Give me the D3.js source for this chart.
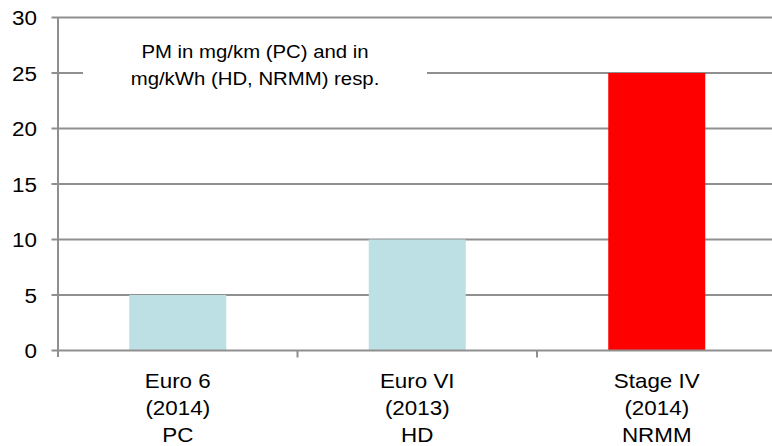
<!DOCTYPE html>
<html><head><meta charset="utf-8">
<script src="https://cdn.jsdelivr.net/npm/d3@7"></script>
<style>
body{margin:0;background:#fff}
svg{display:block}
text{font-family:"Liberation Sans",Arial,Helvetica,sans-serif;fill:#000}
</style>
</head><body>
<svg id="c" width="772" height="446"></svg>
<script>
// ---- data ----
const categories = ["Euro 6", "Euro VI", "Stage IV"];
const years = ["(2014)", "(2013)", "(2014)"];
const sectors = ["PC", "HD", "NRMM"];
const values = [5, 10, 25];
const barColors = ["#bce0e3", "#bce0e3", "#ff0000"];
const yTicks = [0, 5, 10, 15, 20, 25, 30];
const noteLines = ["PM in mg/km (PC) and in", "mg/kWh (HD, NRMM) resp."];

// ---- layout ----
(function () {
const W = 772, H = 446;
const svg = d3.select("#c");
const pLeft = 58, pRight = 776.5, pTop = 17.5, pBottom = 350.5;
const gridColor = "#8f8f8f";
const sx = 1.1;

const y = d3.scaleLinear().domain([0, 30]).range([pBottom, pTop]);
const x = d3.scaleBand().domain(categories).range([pLeft, pRight])
  .paddingInner(0.595).paddingOuter(0.2975);

// gridlines
svg.append("g").selectAll("line").data(yTicks.filter(d => d > 0)).join("line")
  .attr("x1", pLeft).attr("x2", W)
  .attr("y1", d => y(d)).attr("y2", d => y(d))
  .attr("stroke", gridColor).attr("stroke-width", 2);

// note box (white background covering gridline)
svg.append("rect").attr("x", 83).attr("y", 30).attr("width", 344).attr("height", 80).attr("fill", "#fff");
const noteX = 255;
noteLines.forEach((t, i) => {
  svg.append("text")
    .attr("transform", `translate(${noteX},${58.3 + i * 27}) scale(${sx},1)`)
    .attr("text-anchor", "middle").attr("font-size", 18.5).text(t);
});

// bars
svg.append("g").selectAll("rect").data(values).join("rect")
  .attr("x", (d, i) => x(categories[i]))
  .attr("width", x.bandwidth())
  .attr("y", d => y(d))
  .attr("height", d => y(0) - y(d))
  .attr("fill", (d, i) => barColors[i]);

// y axis line
svg.append("line").attr("x1", pLeft).attr("x2", pLeft).attr("y1", pTop).attr("y2", pBottom + 6.5)
  .attr("stroke", gridColor).attr("stroke-width", 2);
// y ticks
svg.append("g").selectAll("line").data(yTicks).join("line")
  .attr("x1", pLeft - 6.5).attr("x2", pLeft)
  .attr("y1", d => y(d)).attr("y2", d => y(d))
  .attr("stroke", gridColor).attr("stroke-width", 2);
// x axis line
svg.append("line").attr("x1", pLeft).attr("x2", W).attr("y1", pBottom).attr("y2", pBottom)
  .attr("stroke", gridColor).attr("stroke-width", 2);
// x ticks at band boundaries
const bounds = categories.map(c => x(c) - x.step() * x.paddingInner() / 2).slice(1);
svg.append("g").selectAll("line").data(bounds).join("line")
  .attr("x1", d => d).attr("x2", d => d)
  .attr("y1", pBottom).attr("y2", pBottom + 7)
  .attr("stroke", gridColor).attr("stroke-width", 2);

// y tick labels
svg.append("g").selectAll("text").data(yTicks).join("text")
  .attr("transform", d => `translate(37,${y(d) + 7.5}) scale(1.07,1)`)
  .attr("text-anchor", "end").attr("font-size", 21).text(d => d);

// category labels
categories.forEach((c, i) => {
  const cx = x(c) + x.bandwidth() / 2;
  [c, years[i], sectors[i]].forEach((t, j) => {
    svg.append("text")
      .attr("transform", `translate(${cx},${388.3 + j * 27}) scale(1.12,1)`)
      .attr("text-anchor", "middle").attr("font-size", 20).text(t);
  });
});
})();
</script>
</body></html>
